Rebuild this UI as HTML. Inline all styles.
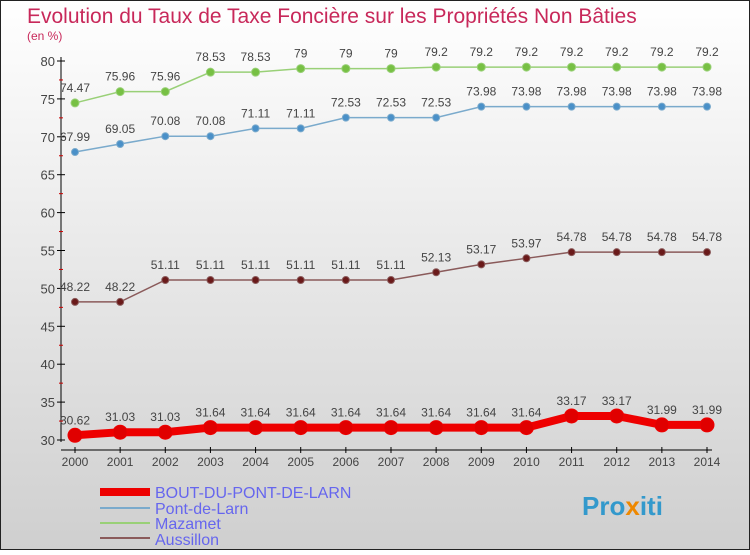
<!DOCTYPE html>
<html><head><meta charset="utf-8"><style>
body{margin:0;}
#c{width:750px;height:550px;position:relative;font-family:"Liberation Sans",sans-serif;}
</style></head><body>
<div id="c">
<svg id="s" width="750" height="550" xmlns="http://www.w3.org/2000/svg">
<defs><linearGradient id="bg" x1="0" y1="0" x2="0" y2="1"><stop offset="0" stop-color="#ffffff"/><stop offset="1" stop-color="#cfcfcf"/></linearGradient></defs>
<rect x="0.5" y="0.5" width="749" height="549" fill="url(#bg)" stroke="#222"/>
<text x="27" y="23" font-size="21" fill="#c8285a">Evolution du Taux de Taxe Foncière sur les Propriétés Non Bâties</text>
<text x="27" y="40" font-size="12" fill="#c8285a">(en %)</text>
<g id="axes"></g><g id="series"></g>
<g>
<line x1="100" y1="492" x2="150" y2="492" stroke="#ee0000" stroke-width="8"/>
<text x="155" y="498" font-size="16" fill="#6666ee">BOUT-DU-PONT-DE-LARN</text>
<line x1="100" y1="508" x2="150" y2="508" stroke="#7aaacc" stroke-width="2"/>
<text x="155" y="514" font-size="16" fill="#6666ee">Pont-de-Larn</text>
<line x1="100" y1="523" x2="150" y2="523" stroke="#99d077" stroke-width="2"/>
<text x="155" y="529" font-size="16" fill="#6666ee">Mazamet</text>
<line x1="100" y1="538" x2="150" y2="538" stroke="#8a5a5a" stroke-width="2"/>
<text x="155" y="545" font-size="16" fill="#6666ee">Aussillon</text>
</g>
<text x="582" y="515" font-size="26" font-weight="bold" fill="#3399cc">Pro<tspan fill="#ee8800">x</tspan>iti</text>
</svg></div>
<script>
const years=[2000,2001,2002,2003,2004,2005,2006,2007,2008,2009,2010,2011,2012,2013,2014];
const bout=[30.62,31.03,31.03,31.64,31.64,31.64,31.64,31.64,31.64,31.64,31.64,33.17,33.17,31.99,31.99];
const pont=[67.99,69.05,70.08,70.08,71.11,71.11,72.53,72.53,72.53,73.98,73.98,73.98,73.98,73.98,73.98];
const mazamet=[74.47,75.96,75.96,78.53,78.53,79,79,79,79.2,79.2,79.2,79.2,79.2,79.2,79.2];
const aussillon=[48.22,48.22,51.11,51.11,51.11,51.11,51.11,51.11,52.13,53.17,53.97,54.78,54.78,54.78,54.78];
const yTicks=[30,35,40,45,50,55,60,65,70,75,80];
const NS='http://www.w3.org/2000/svg';
const X=i=>75+i*(707-75)/(years.length-1);
const Y=v=>440-(v-30)*(440-61)/50;
function mk(t,a,p){const e=document.createElementNS(NS,t);for(const k in a)e.setAttribute(k,a[k]);p.appendChild(e);return e;}
const ax=document.getElementById('axes');
let l=mk('line',{x1:61,y1:57,x2:61,y2:442,stroke:'#000','stroke-width':1},ax);


l=mk('line',{x1:61,y1:450,x2:712,y2:450,stroke:'#000','stroke-width':1},ax);


yTicks.forEach(v=>{
 mk('line',{x1:57,y1:Y(v),x2:65,y2:Y(v),stroke:'#000'},ax);
 if(v<80) mk('line',{x1:59,y1:Y(v+2.5),x2:63,y2:Y(v+2.5),stroke:'#cc0000'},ax);
 const t=mk('text',{x:55,y:Y(v)+5,'text-anchor':'end','font-size':13,fill:'#444'},ax);t.textContent=v;
 
 
});
years.forEach((y,i)=>{
 mk('line',{x1:X(i),y1:447,x2:X(i),y2:453,stroke:'#000'},ax);
 const t=mk('text',{x:X(i),y:466,'text-anchor':'middle','font-size':12,fill:'#444'},ax);t.textContent=y;
 
 
});
const sg=document.getElementById('series');
function series(name,data,col,w,r,dark){
 const g=mk('g',{},sg);
 
 
 const p=mk('polyline',{points:data.map((v,i)=>X(i)+','+Y(v)).join(' '),fill:'none',stroke:col,'stroke-width':w},g);
 
 
 data.forEach((v,i)=>{
  const c=mk('circle',{cx:X(i),cy:Y(v),r:r,fill:dark,stroke:col,'stroke-width':1},g);
  
  
  const t=mk('text',{x:X(i),y:Y(v)-11,'text-anchor':'middle','font-size':12,fill:'#444'},g);t.textContent=v;
  
  
 });
}
series('mazamet',mazamet,'#99d077',1.5,4,'#77c044');
series('pont-de-larn',pont,'#7aaacc',1.5,3.5,'#4a90c8');
series('aussillon',aussillon,'#8a5a5a',1.5,3.5,'#6a1a1a');
series('bout-du-pont-de-larn',bout,'#ee0000',8,7,'#e00000');
</script>
</body></html>
